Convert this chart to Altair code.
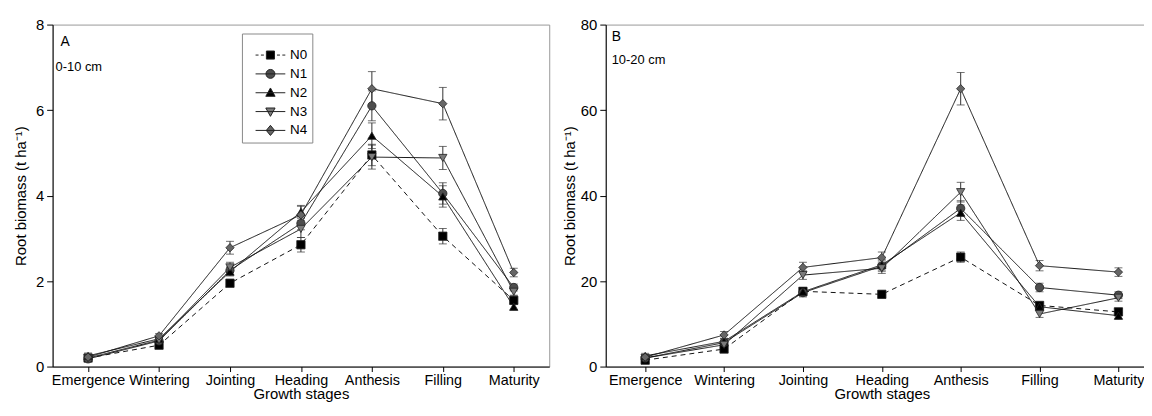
import json
import altair as alt
import pandas as pd

stages = ["Emergence", "Wintering", "Jointing", "Heading", "Anthesis", "Filling", "Maturity"]
series = ["N0", "N1", "N2", "N3", "N4"]

# Panel A: 0-10 cm (t ha-1)
a_N0 = [0.20, 0.50, 1.95, 2.85, 4.95, 3.05, 1.55]
a_N1 = [0.18, 0.60, 2.25, 3.35, 6.10, 4.05, 1.85]
a_N2 = [0.25, 0.65, 2.22, 3.62, 5.40, 3.98, 1.40]
a_N3 = [0.20, 0.62, 2.32, 3.22, 4.90, 4.88, 1.75]
a_N4 = [0.22, 0.72, 2.78, 3.55, 6.50, 6.15, 2.20]
a_N0_se = [0.04, 0.05, 0.08, 0.17, 0.25, 0.18, 0.10]
a_N1_se = [0.04, 0.05, 0.10, 0.15, 0.35, 0.25, 0.08]
a_N2_se = [0.07, 0.05, 0.10, 0.15, 0.30, 0.25, 0.08]
a_N3_se = [0.04, 0.05, 0.12, 0.20, 0.28, 0.27, 0.08]
a_N4_se = [0.04, 0.05, 0.15, 0.20, 0.40, 0.38, 0.10]

# Panel B: 10-20 cm
b_N0 = [1.5, 4.1, 17.6, 16.9, 25.6, 14.3, 12.8]
b_N1 = [2.0, 5.6, 17.3, 23.5, 37.0, 18.5, 16.7]
b_N2 = [2.5, 5.9, 17.5, 23.8, 36.0, 14.0, 11.9]
b_N3 = [2.0, 5.1, 21.4, 23.0, 40.8, 12.3, 16.1]
b_N4 = [2.2, 7.4, 23.2, 25.5, 65.0, 23.6, 22.1]
b_N0_se = [0.5, 0.6, 0.9, 0.8, 1.2, 0.8, 0.8]
b_N1_se = [0.5, 0.7, 1.0, 1.2, 1.8, 1.0, 0.8]
b_N2_se = [0.6, 0.7, 1.0, 1.2, 1.8, 0.8, 0.8]
b_N3_se = [0.5, 0.7, 1.0, 1.2, 2.3, 0.8, 0.8]
b_N4_se = [0.5, 0.8, 1.2, 1.3, 3.8, 1.2, 1.0]

panel_tags = ["A", "B"]
depth_tags = ["0-10 cm", "10-20 cm"]
y_title = "Root biomass (t ha\u207b\u00b9)"
x_title = "Growth stages"
a_yticks = [0, 2, 4, 6, 8]
b_yticks = [0, 20, 40, 60, 80]

fills = ["#000000", "#4d4d4d", "#000000", "#7b7b7b", "#666666"]
shapes = ["square", "circle", "triangle-up", "triangle-down", "diamond"]
dashes = [[5, 4], [1, 0], [1, 0], [1, 0], [1, 0]]

# legend symbols: line + marker (unit = 6px at symbolSize 144)
LINE = "M-2.5,0H2.5"
DASH = "M-2.5,0H-2.0M-1.6,0H-1.1M1.1,0H1.6M2.0,0H2.5"
legend_paths = [
    DASH + "M-0.68,-0.68H0.68V0.68H-0.68Z",
    LINE + "M-0.75,0A0.75,0.75 0 1,0 0.75,0A0.75,0.75 0 1,0 -0.75,0Z",
    LINE + "M0,-0.8L0.78,0.6L-0.78,0.6Z",
    LINE + "M0,0.8L0.78,-0.6L-0.78,-0.6Z",
    LINE + "M0,-0.85L0.7,0L0,0.85L-0.7,0Z",
]

FONT = "Liberation Sans"


def to_long(vals, errs):
    rows = []
    for s, v_list, e_list in zip(series, vals, errs):
        for i, st in enumerate(stages):
            v, e = v_list[i], e_list[i]
            rows.append(dict(series=s, idx=i, stage=st, value=v, lo=v - e, hi=v + e))
    return pd.DataFrame(rows)


dfA = to_long([a_N0, a_N1, a_N2, a_N3, a_N4], [a_N0_se, a_N1_se, a_N2_se, a_N3_se, a_N4_se])
dfB = to_long([b_N0, b_N1, b_N2, b_N3, b_N4], [b_N0_se, b_N1_se, b_N2_se, b_N3_se, b_N4_se])

label_expr = json.dumps(stages) + "[datum.value]"


def make_panel(df, width, height, ymax, yticks, title_x, tag, depth, tag_xy, depth_xy, legend):
    xs = alt.Scale(domain=[-0.5, 6.5], nice=False, zero=False)
    x = alt.X("idx:Q", scale=xs,
              axis=alt.Axis(values=list(range(len(stages))), labelExpr=label_expr,
                            title=x_title, labelFontSize=14.5, titleFontSize=15,
                            tickSize=5, labelPadding=2, titlePadding=0,
                            labelOverlap=False, labelFlush=False, grid=False))
    ys = alt.Scale(domain=[0, ymax], nice=False, zero=True)
    yaxis = alt.Axis(values=yticks, title=y_title, titleFontSize=15,
                     labelFontSize=15, tickSize=6, labelPadding=3,
                     titleX=title_x, titleY=height / 2, titleBaseline="middle",
                     labelOverlap=False, labelFlush=False, grid=False)

    def yf(field):
        return alt.Y(field, scale=ys, axis=yaxis)

    base = alt.Chart(df)
    rule = base.mark_rule(color="#333333", strokeWidth=1).encode(x=x, y=yf("lo:Q"), y2="hi:Q")
    cap_lo = base.mark_tick(orient="horizontal", size=8, thickness=1, color="#333333").encode(x=x, y=yf("lo:Q"))
    cap_hi = base.mark_tick(orient="horizontal", size=8, thickness=1, color="#333333").encode(x=x, y=yf("hi:Q"))
    lines = base.mark_line(color="#111111", strokeWidth=1).encode(
        x=x, y=yf("value:Q"), detail="series:N", order="idx:Q",
        strokeDash=alt.StrokeDash("series:N", scale=alt.Scale(domain=series, range=dashes), legend=None))
    points = base.mark_point(filled=True, size=70, stroke="#222222", strokeWidth=0.8, opacity=1).encode(
        x=x, y=yf("value:Q"),
        shape=alt.Shape("series:N", scale=alt.Scale(domain=series, range=shapes), legend=None),
        fill=alt.Fill("series:N", scale=alt.Scale(domain=series, range=fills), legend=None))

    t1 = alt.Chart(pd.DataFrame({"t": [tag]})).mark_text(
        align="left", baseline="alphabetic", font=FONT, fontSize=14, color="black").encode(
        x=alt.value(tag_xy[0]), y=alt.value(tag_xy[1]), text="t:N")
    t2 = alt.Chart(pd.DataFrame({"t": [depth]})).mark_text(
        align="left", baseline="alphabetic", font=FONT, fontSize=13, color="black").encode(
        x=alt.value(depth_xy[0]), y=alt.value(depth_xy[1]), text="t:N")

    layers = [rule, cap_lo, cap_hi, lines, points, t1, t2]
    if legend:
        leg = alt.Legend(orient="none", legendX=191, legendY=9, title=" ", titleFontSize=10,
                         titlePadding=0, padding=5, fillColor="white", strokeColor="#888888",
                         symbolSize=144, symbolOffset=17, labelOffset=13, rowPadding=4,
                         labelFont=FONT, labelFontSize=13.5, labelColor="black",
                         symbolStrokeWidth=1)
        leg_layer = base.transform_filter("false").mark_point(
            filled=True, stroke="#222222", strokeWidth=1, opacity=1).encode(
            x=x, y=yf("value:Q"),
            fill=alt.Fill("series:N", scale=alt.Scale(domain=series, range=fills), legend=leg),
            shape=alt.Shape("series:N", scale=alt.Scale(domain=series, range=legend_paths), legend=leg))
        layers.append(leg_layer)
    ch = alt.layer(*layers).properties(width=width, height=height)
    if legend:
        ch = ch.resolve_scale(shape="independent", fill="independent")
    return ch


pA = make_panel(dfA, 501, 345, 8, a_yticks, -32.5, panel_tags[0], depth_tags[0], (8, 22), (3, 47), True)
pB = make_panel(dfB, 557, 345, 80, b_yticks, -36.5, panel_tags[1], depth_tags[1], (6, 17), (6, 39.5), False)

chart = alt.hconcat(pA, pB, spacing=57, bounds="flush").resolve_scale(
    shape="independent", fill="independent", strokeDash="independent"
).properties(
    padding={"left": 5, "top": 7, "right": -15, "bottom": -2}
).configure_view(
    stroke="#999999", strokeWidth=1
).configure_axis(
    labelFont=FONT, titleFont=FONT, labelColor="black", titleColor="black",
    titleFontWeight="normal", domainColor="black", tickColor="black", domainWidth=1
)

chart.save("out.html", embed_options={"renderer": "svg", "actions": False})
